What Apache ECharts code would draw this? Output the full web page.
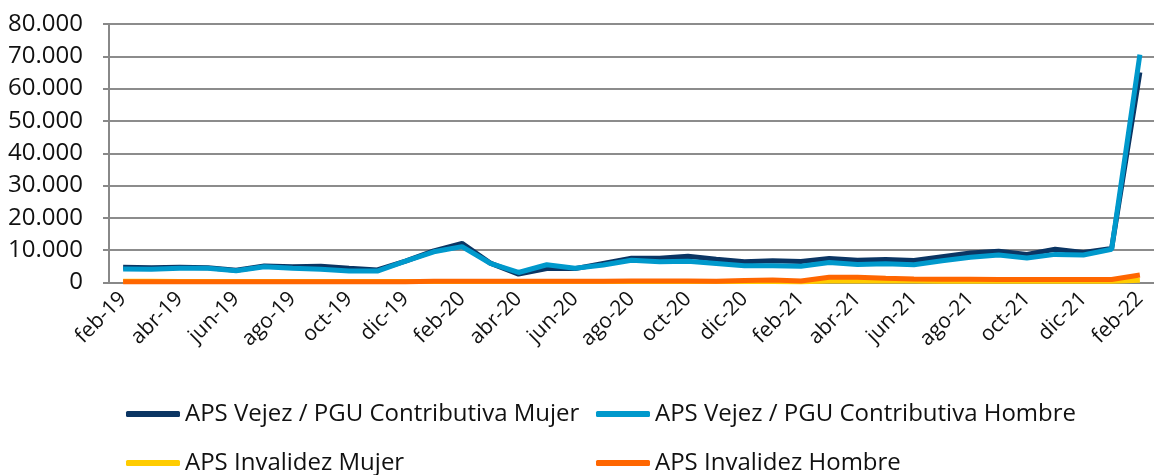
<!DOCTYPE html>
<html>
<head>
<meta charset="utf-8">
<script src="https://cdn.jsdelivr.net/npm/echarts@6/dist/echarts.min.js"></script>
<style>
  html, body { margin: 0; padding: 0; background: #fff; }
  #chart { width: 1154px; height: 475px; }
</style>
</head>
<body>
<div id="chart"></div>
<script>
const months = [
  'feb-19', 'mar-19', 'abr-19', 'may-19', 'jun-19', 'jul-19', 'ago-19', 'sep-19', 'oct-19', 'nov-19', 'dic-19',
  'ene-20', 'feb-20', 'mar-20', 'abr-20', 'may-20', 'jun-20', 'jul-20', 'ago-20', 'sep-20', 'oct-20', 'nov-20', 'dic-20',
  'ene-21', 'feb-21', 'mar-21', 'abr-21', 'may-21', 'jun-21', 'jul-21', 'ago-21', 'sep-21', 'oct-21', 'nov-21', 'dic-21',
  'ene-22', 'feb-22'
]
const vejezMujer = [
  4700, 4600, 4700, 4600, 3800, 5100, 4900, 5000, 4400, 3900, 6600,
  9800, 12100, 6000, 2600, 4300, 4300, 5900, 7500, 7500, 8100, 7200, 6400,
  6700, 6500, 7400, 6900, 7100, 6800, 8000, 9100, 9700, 8700, 10300, 9300,
  10500, 65000
]
const vejezHombre = [
  4200, 4100, 4400, 4400, 3650, 4900, 4400, 4100, 3550, 3550, 6600,
  9500, 11100, 5950, 3100, 5500, 4400, 5400, 6900, 6400, 6600, 5900, 5200,
  5200, 5000, 6200, 5600, 5800, 5500, 6700, 7800, 8500, 7600, 8700, 8500,
  10300, 70500
]
const invalidezMujer = [
  350, 350, 340, 330, 320, 330, 330, 320, 310, 300, 300,
  320, 330, 300, 280, 300, 290, 280, 300, 310, 320, 300, 290,
  300, 200, 500, 550, 500, 450, 420, 400, 400, 400, 400, 400,
  400, 700
]
const invalidezHombre = [
  250, 260, 250, 240, 230, 240, 240, 230, 220, 220, 230,
  350, 420, 400, 350, 420, 400, 380, 450, 470, 480, 420, 600,
  780, 460, 1600, 1600, 1300, 1100, 1000, 1000, 950, 900, 900, 900,
  900, 2300
]
const seriesNames = [
  'APS Vejez / PGU Contributiva Mujer',
  'APS Vejez / PGU Contributiva Hombre',
  'APS Invalidez Mujer',
  'APS Invalidez Hombre'
]
const colors = ['#0b3563', '#0099cc', '#ffcc00', '#ff6600']

const font = 'Open Sans'
const chart = echarts.init(document.getElementById('chart'))

// miles con punto
function fmt(v) {
  return String(v).replace(/\B(?=(\d{3})+(?!\d))/g, '.')
}

function lineSerie(idx, data) {
  return {
    name: seriesNames[idx],
    type: 'line',
    data: data,
    symbol: 'none',
    smooth: false,
    lineStyle: { width: 5, color: colors[idx] },
    itemStyle: { color: colors[idx] },
    z: 2 + idx
  }
}

// una leyenda por item, para que queden en columnas como en el original
function legendItem(idx, left, top) {
  return {
    left: left,
    top: top,
    data: [seriesNames[idx]],
    itemWidth: 54,
    itemHeight: 6,
    icon: 'roundRect',
    padding: 0,
    textStyle: { fontFamily: font, fontSize: 24, color: '#111', lineHeight: 28 }
  }
}

const option = {
  animation: false,
  backgroundColor: '#fff',
  color: colors,
  grid: { left: 109, top: 24, width: 1058, bottom: 192.5, containLabel: false },
  legend: [
    legendItem(0, 126, 400),
    legendItem(1, 596, 400),
    legendItem(2, 126, 449),
    legendItem(3, 596, 449)
  ],
  xAxis: {
    type: 'category',
    data: months,
    boundaryGap: true,
    axisLine: { lineStyle: { color: '#888', width: 2 } },
    axisTick: { show: false },
    axisLabel: {
      interval: 1,
      rotate: 45,
      margin: 13,
      fontFamily: font,
      fontSize: 21,
      color: '#111'
    }
  },
  yAxis: {
    type: 'value',
    min: 0,
    max: 80000,
    interval: 10000,
    axisLine: { show: true, lineStyle: { color: '#888', width: 2 } },
    axisTick: { show: true, inside: false, length: 6, lineStyle: { color: '#888', width: 2 } },
    splitLine: { lineStyle: { color: '#8c8c8c', width: 2 } },
    axisLabel: {
      margin: 26,
      fontFamily: font,
      fontSize: 24,
      color: '#111',
      formatter: fmt
    }
  },
  series: [
    lineSerie(0, vejezMujer),
    lineSerie(1, vejezHombre),
    lineSerie(2, invalidezMujer),
    lineSerie(3, invalidezHombre)
  ]
}

chart.setOption(option)
</script>
</body>
</html>
